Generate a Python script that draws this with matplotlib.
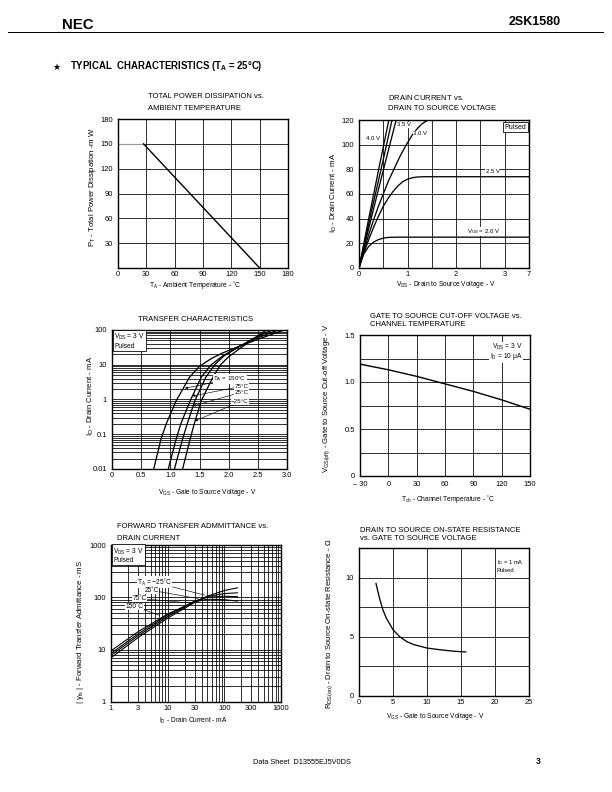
import numpy as np
import matplotlib
matplotlib.use('Agg')
import matplotlib.pyplot as plt
from matplotlib.lines import Line2D
from matplotlib.ticker import FixedLocator, FixedFormatter, LogLocator, NullFormatter

plt.rcParams['font.family'] = ['Liberation Sans', 'DejaVu Sans']
plt.rcParams['mathtext.fontset'] = 'custom'
plt.rcParams['mathtext.rm'] = 'Liberation Sans'
plt.rcParams['mathtext.it'] = 'Liberation Sans:italic'
plt.rcParams['mathtext.bf'] = 'Liberation Sans:bold'
plt.rcParams['mathtext.default'] = 'rm'

# ---- values ----
# total power dissipation
pd_temp = [0, 27, 150]
pd_power = [150, 150, 0]

# drain current vs drain-source voltage (steep curves: 4.0 V .. 3.5 V)
dc_vds_40 = [0, 0.2, 0.4, 0.615]
dc_id_40 = [0, 40, 79, 120]
dc_vds_mid = [0, 0.25, 0.5, 0.68]
dc_id_mid = [0, 45, 88, 120]
dc_vds_35 = [0, 0.3, 0.55, 0.765]
dc_id_35 = [0, 48, 87, 120]
dc_vds_30 = [0, 0.1, 0.2, 0.3, 0.4, 0.5, 0.6, 0.73, 0.85, 0.975, 1.1, 1.2, 1.3, 1.42]
dc_id_30 = [0, 14, 27, 39, 50, 60, 70, 81, 91, 100, 108, 113, 117, 120]
dc_vds_25 = [0, 0.1, 0.2, 0.3, 0.4, 0.5, 0.6, 0.7, 0.8, 0.9, 1.0, 1.1, 1.2, 1.35, 3.0, 7.0]
dc_id_25 = [0, 12, 23, 33, 42, 50, 56.5, 62, 66.5, 70, 72, 73.2, 73.8, 74, 74, 74]
dc_vds_20 = [0, 0.05, 0.1, 0.2, 0.3, 0.4, 0.5, 0.6, 0.8, 1.0, 3.0, 7.0]
dc_id_20 = [0, 6.5, 11.5, 17.5, 21, 23, 24.2, 24.8, 25, 25, 25, 25]

# transfer characteristics (ID in mA)
tr_vgs_150 = [0.715, 0.84, 0.93, 1.10, 1.33, 1.50, 1.70, 1.90, 2.20, 2.60, 2.95]
tr_id_150 = [0.01, 0.073, 0.2, 0.92, 4.4, 9, 15, 22, 35, 62, 100]
tr_vgs_75 = [0.965, 1.10, 1.18, 1.34, 1.53, 1.70, 1.90, 2.20, 2.50, 2.85]
tr_id_75 = [0.01, 0.073, 0.2, 0.92, 4.4, 10, 18, 35, 60, 100]
tr_vgs_25 = [1.07, 1.21, 1.29, 1.42, 1.61, 1.76, 1.92, 2.20, 2.45, 2.75]
tr_id_25 = [0.01, 0.073, 0.2, 0.92, 4.4, 10, 18, 35, 60, 100]
tr_vgs_m25 = [1.21, 1.34, 1.41, 1.53, 1.73, 1.86, 2.00, 2.20, 2.40, 2.65]
tr_id_m25 = [0.01, 0.073, 0.2, 0.92, 4.4, 10, 17, 30, 52, 100]

# gate cut-off voltage vs channel temperature
co_tch = [-30, 0, 30, 60, 90, 120, 150]
co_vgs = [1.19, 1.13, 1.06, 0.98, 0.90, 0.81, 0.71]

# forward transfer admittance (mS) vs drain current (mA)
yfs_id = [1, 3, 10, 30, 50, 100, 170]
yfs_m25 = [7, 17, 40, 80, 105, 135, 152]
yfs_25 = [7.8, 18.5, 43, 83, 103, 118, 122]
yfs_75 = [8.5, 20, 46, 85, 100, 105, 103]
yfs_150 = [9.5, 22, 48, 82, 92, 90, 85]

# on-state resistance vs gate-source voltage
rds_vgs = [2.5, 3, 3.5, 4, 5, 6, 7, 8, 10, 12, 14, 15.7]
rds_ohm = [9.5, 8.3, 7.3, 6.6, 5.6, 5.0, 4.6, 4.35, 4.05, 3.9, 3.78, 3.72]

W, H = 612, 792
fig = plt.figure(figsize=(W / 72, H / 72), dpi=72)


def box(l, t, r, b):
    return fig.add_axes([l / W, 1 - b / H, (r - l) / W, (b - t) / H])


def put(x, y, s, **kw):
    kw.setdefault('va', 'center')
    return fig.text(x / W, 1 - y / H, s, **kw)


def frame(ax, xpad=3.5, ypad=5):
    for sp in ax.spines.values():
        sp.set_linewidth(1.4)
    ax.tick_params(which='both', length=0, labelsize=7.5)
    ax.tick_params(axis='x', pad=xpad)
    ax.tick_params(axis='y', pad=ypad)
    ax.grid(True, which='both', color='k', lw=0.8)
    ax.set_axisbelow(True)


TS = 7.6   # title size
XL = 6.6   # x label size
YL = 7.8   # y label size

# ---- page header / footer ----
put(62, 25, 'NEC', fontsize=15, fontweight='heavy')
put(561, 22, '2SK1580', fontsize=12.5, fontweight='bold', ha='right')
fig.add_artist(Line2D([8 / W, 603 / W], [1 - 32 / H] * 2, color='k', lw=1))
put(52, 67, '\u2605', fontsize=9, family=['DejaVu Sans'])
put(70, 66, r'TYPICAL  CHARACTERISTICS (T$_{\bf A}$ = 25°C)', fontsize=9.6, fontweight='bold')
put(302, 763, 'Data Sheet  D13555EJ5V0DS', fontsize=7.4, ha='center')
put(538, 761, '3', fontsize=8.5, fontweight='bold', ha='center')

# ---- 1: total power dissipation ----
ax = box(118, 119, 288, 268)
ax.plot(pd_temp[:2], pd_power[:2], color='0.6', lw=1.2)
ax.plot(pd_temp[1:], pd_power[1:], color='k', lw=1.4)
ax.set_xlim(0, 180)
ax.set_ylim(0, 180)
ax.set_xticks(range(0, 181, 30))
ax.set_yticks(range(30, 181, 30))
frame(ax)
put(148, 97, 'TOTAL POWER DISSIPATION vs.', fontsize=TS)
put(148, 108, 'AMBIENT TEMPERATURE', fontsize=TS)
put(93, 187, r'P$_{\rm T}$ - Total Power Dissipation -m W', fontsize=YL, rotation=90, ha='center')
put(195, 285, r'T$_{\rm A}$ - Ambient Temperature - ˚C', fontsize=XL, ha='center')


# ---- 2: drain current vs drain-source voltage ----
def fwd(v):
    v = np.asarray(v, float)
    return np.where(v <= 3, v, 3 + (v - 3) / 8)


def inv(u):
    u = np.asarray(u, float)
    return np.where(u <= 3, u, 3 + (u - 3) * 8)


ax = box(359, 120, 529, 268)
ax.set_xscale('function', functions=(fwd, inv))
for xs, ys in [(dc_vds_40, dc_id_40), (dc_vds_mid, dc_id_mid), (dc_vds_35, dc_id_35),
               (dc_vds_30, dc_id_30), (dc_vds_25, dc_id_25), (dc_vds_20, dc_id_20)]:
    ax.plot(xs, ys, color='k', lw=1.3)
ax.set_xlim(0, 7)
ax.set_ylim(0, 120)
ax.xaxis.set_major_locator(FixedLocator([0, 1, 2, 3, 7]))
ax.xaxis.set_minor_locator(FixedLocator([0.5, 1.5, 2.5]))
ax.xaxis.set_major_formatter(FixedFormatter(['0', '1', '2', '3', '7']))
ax.xaxis.set_minor_formatter(NullFormatter())
ax.set_yticks(range(0, 121, 20))
frame(ax)
lab = dict(fontsize=6, ha='center', va='center', bbox=dict(fc='w', ec='none', pad=0.4))
ax.text(0.29, 105, '4.0 V', **lab)
ax.text(0.93, 116, '3.5 V', **lab)
ax.text(1.26, 109, '3.0 V', **lab)
ax.text(2.75, 78, '2.5 V', **lab)
ax.text(2.57, 29.5, r'V$_{\rm GS}$ = 2.0 V', **lab)
ax.text(0.985, 0.975, 'Pulsed', transform=ax.transAxes, fontsize=7, ha='right', va='top',
        bbox=dict(fc='w', ec='k', lw=0.8, pad=1.5))
put(388, 97, r'DRAIN CURRENT $\rm vs.$', fontsize=TS)
put(388, 108, 'DRAIN TO SOURCE VOLTAGE', fontsize=TS)
put(334, 193, r'I$_{\rm D}$ - Drain Current - mA', fontsize=YL, rotation=90, ha='center')
put(446, 285, r'V$_{\rm DS}$ - Drain to Source Voltage - V', fontsize=XL, ha='center')

# ---- 3: transfer characteristics ----
ax = box(112, 330, 287, 469)
for xs, ys in [(tr_vgs_150, tr_id_150), (tr_vgs_75, tr_id_75),
               (tr_vgs_25, tr_id_25), (tr_vgs_m25, tr_id_m25)]:
    ax.plot(xs, ys, color='k', lw=1.3)
ax.set_yscale('log')
ax.set_xlim(0, 3)
ax.set_ylim(0.01, 100)
ax.set_xticks(np.arange(0, 3.01, 0.5))
ax.set_xticklabels(['0', '0.5', '1.0', '1.5', '2.0', '2.5', '3.0'])
ax.yaxis.set_major_locator(FixedLocator([0.01, 0.1, 1, 10, 100]))
ax.yaxis.set_major_formatter(FixedFormatter(['0.01', '0.1', '1', '10', '100']))
ax.yaxis.set_minor_locator(LogLocator(subs=range(2, 10)))
ax.yaxis.set_minor_formatter(NullFormatter())
frame(ax)
arr = dict(arrowstyle='-|>', lw=0.6, color='k', mutation_scale=5, shrinkA=0, shrinkB=0)
wbg = dict(fc='w', ec='none', pad=0.3)
ax.annotate(r'T$_{\rm A}$ = 150°C', xy=(1.25, 2.1), xytext=(1.74, 3.9), fontsize=6.2,
            ha='left', va='center', bbox=wbg, arrowprops=arr)
ax.annotate('75°C', xy=(1.38, 1.26), xytext=(2.34, 2.4), fontsize=6.2,
            ha='right', va='center', bbox=wbg, arrowprops=arr)
ax.annotate('25°C', xy=(1.39, 0.65), xytext=(2.34, 1.62), fontsize=6.2,
            ha='right', va='center', bbox=wbg, arrowprops=arr)
ax.annotate('\u221225°C', xy=(1.42, 0.24), xytext=(2.34, 0.85), fontsize=6.2,
            ha='right', va='center', bbox=wbg, arrowprops=arr)
ax.text(0.012, 0.985, r'V$_{\rm DS}$ = 3 V' + '\nPulsed', transform=ax.transAxes, fontsize=6.6,
        ha='left', va='top', linespacing=1.1, bbox=dict(fc='w', ec='k', lw=0.8, pad=1.2))
put(138, 320, 'TRANSFER CHARACTERISTICS', fontsize=TS)
put(91, 396, r'I$_{\rm D}$ - Drain Current - mA', fontsize=YL, rotation=90, ha='center')
put(207, 492, r'V$_{\rm GS}$ - Gate to Source Voltage - V', fontsize=XL, ha='center')

# ---- 4: gate cut-off voltage vs channel temperature ----
ax = box(360, 335, 530, 476)
ax.plot(co_tch, co_vgs, color='k', lw=1.4)
ax.set_xlim(-30, 150)
ax.set_ylim(0, 1.5)
ax.set_xticks(range(-30, 151, 30))
ax.set_xticklabels(['\u2013 30', '0', '30', '60', '90', '120', '150'])
ax.set_yticks([0, 0.5, 1.0, 1.5])
ax.set_yticklabels(['0', '0.5', '1.0', '1.5'])
ax.yaxis.set_minor_locator(FixedLocator([0.25, 0.75, 1.25]))
frame(ax, xpad=5.5)
ax.text(0.955, 0.955, r'V$_{\rm DS}$ = 3 V' + '\n' + r'I$_{\rm D}$ = 10 $\mu$A', transform=ax.transAxes,
        fontsize=6.6, ha='right', va='top', linespacing=0.95,
        bbox=dict(fc='w', ec='none', pad=0.5))
put(370, 316, 'GATE TO SOURCE CUT-OFF VOLTAGE vs.', fontsize=TS)
put(370, 325, 'CHANNEL TEMPERATURE', fontsize=TS)
put(327, 398, r'V$_{\rm GS(off)}$ - Gate to Source Cut-off Voltage - V', fontsize=YL, rotation=90, ha='center')
put(448, 499, r'T$_{\rm ch}$ - Channel Temperature - ˚C', fontsize=XL, ha='center')

# ---- 5: forward transfer admittance ----
ax = box(111, 545, 281, 702)
for ys in [yfs_m25, yfs_25, yfs_75, yfs_150]:
    ax.plot(yfs_id, ys, color='k', lw=1.1)
ax.set_xscale('log')
ax.set_yscale('log')
ax.set_xlim(1, 1000)
ax.set_ylim(1, 1000)
ax.xaxis.set_major_locator(FixedLocator([1, 3, 10, 30, 100, 300, 1000]))
ax.xaxis.set_major_formatter(FixedFormatter(['1', '3', '10', '30', '100', '300', '1000']))
ax.xaxis.set_minor_locator(LogLocator(subs=range(2, 10)))
ax.xaxis.set_minor_formatter(NullFormatter())
ax.yaxis.set_major_locator(FixedLocator([1, 10, 100, 1000]))
ax.yaxis.set_major_formatter(FixedFormatter(['1', '10', '100', '1000']))
ax.yaxis.set_minor_locator(LogLocator(subs=range(2, 10)))
ax.yaxis.set_minor_formatter(NullFormatter())
frame(ax)
ln = dict(arrowstyle='-', lw=0.6, color='k', shrinkA=0, shrinkB=0)
ax.annotate(r'T$_{\rm A}$ = ' + '\u221225˚C', xy=(45, 110), xytext=(11.9, 194),
            fontsize=6.6, ha='right', va='center', bbox=wbg, arrowprops=ln)
ax.annotate('25˚C', xy=(34.6, 94.6), xytext=(7.0, 136), fontsize=6.6,
            ha='right', va='center', bbox=wbg, arrowprops=ln)
ax.annotate('75˚C', xy=(24.8, 78), xytext=(4.3, 95), fontsize=6.6,
            ha='right', va='center', bbox=wbg, arrowprops=ln)
ax.annotate('150˚C', xy=(7.3, 45), xytext=(3.7, 67), fontsize=6.6,
            ha='right', va='center', bbox=wbg, arrowprops=ln)
ax.text(0.012, 0.99, r'V$_{\rm DS}$ = 3 V' + '\nPulsed', transform=ax.transAxes, fontsize=6.6,
        ha='left', va='top', linespacing=1.1, bbox=dict(fc='w', ec='k', lw=0.8, pad=1.2))
put(117, 527, 'FORWARD TRANSFER ADMMITTANCE vs.', fontsize=TS)
put(117, 538, 'DRAIN CURRENT', fontsize=TS)
put(80, 632, r'| y$_{\rm fs}$ | - Forward Transfer Admittance - mS', fontsize=YL, rotation=90, ha='center')
put(193, 721, r'I$_{\rm D}$ - Drain Current - mA', fontsize=XL, ha='center')

# ---- 6: on-state resistance ----
ax = box(359, 548, 529, 696)
ax.plot(rds_vgs, rds_ohm, color='k', lw=1.3)
ax.set_xlim(0, 25)
ax.set_ylim(0, 12.5)
ax.set_xticks(range(0, 26, 5))
ax.set_yticks([0, 5, 10])
ax.yaxis.set_minor_locator(FixedLocator([2.5, 7.5, 12.5]))
frame(ax)
ax.text(0.81, 0.93, r'I$_{\rm D}$ = 1 mA' + '\nPulsed', transform=ax.transAxes, fontsize=5.8,
        ha='left', va='top', linespacing=1.1, bbox=dict(fc='w', ec='none', pad=0.5))
put(360, 530, 'DRAIN TO SOURCE ON-STATE RESISTANCE', fontsize=TS)
put(360, 539, 'vs. GATE TO SOURCE VOLTAGE', fontsize=TS)
put(330, 624, r'R$_{\rm DS(on)}$ - Drain to Source On-state Resistance - Ω', fontsize=YL, rotation=90, ha='center')
put(435, 717, r'V$_{\rm GS}$ - Gate to Source Voltage - V', fontsize=XL, ha='center')

fig.savefig('out.png', dpi=72)
